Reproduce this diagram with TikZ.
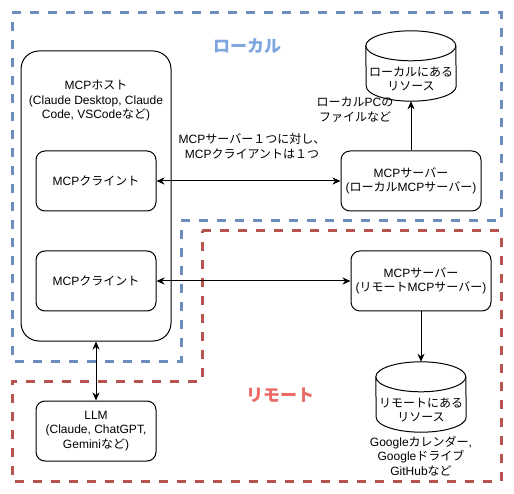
\documentclass[tikz,border=0pt]{standalone}
\usepackage{fontspec}
\setmainfont{Liberation Sans}
\newfontfamily\jp{Noto Sans CJK JP}
\newcommand\J[1]{{\jp #1}}
\usetikzlibrary{arrows.meta}
\definecolor{zoneblue}{HTML}{6C8EBF}
\definecolor{zonered}{HTML}{B85450}
\definecolor{lblblue}{HTML}{7EA6E0}
\definecolor{lblred}{HTML}{EA6B66}
\begin{document}
\begin{tikzpicture}[x=1pt,y=-1pt,
  font=\fontsize{12}{14.5}\selectfont,
  box/.style={draw, line width=1pt, rounded corners=9pt, inner sep=0pt, align=center, fill=white},
  zone/.style={line width=3pt, dash pattern=on 9pt off 9pt},
  tip/.tip={Stealth[length=8pt,width=7pt,inset=2.5pt]},
  link/.style={line width=1pt, -tip},
  both/.style={line width=1pt, tip-tip},
  cylbox/.style={minimum width=90pt, minimum height=70pt, inner sep=0pt},
  txt/.style={align=center, inner sep=0pt},
  zonelabel/.style={inner sep=0pt, font=\fontsize{17}{20}\selectfont\jp\bfseries}]
\useasboundingbox (0,0) rectangle (514,494);
\fill[white] (0,0) rectangle (514,494);

% zones
\draw[zone, zoneblue] (12,13) -- (501,13) -- (501,221) -- (181,221) -- (181,361) -- (12,361) -- cycle;
\draw[zone, zonered] (202,231) -- (501,231) -- (501,481) -- (12,481) -- (12,381) -- (202,381) -- cycle;
\node[zonelabel, text=lblblue] (loclabel) at (247,46) {ローカル};
\node[zonelabel, text=lblred] (remlabel) at (280,395) {リモート};

% host
\node[box, rounded corners=18pt, minimum width=150pt, minimum height=290pt] (host) at (96,196) {};
\node[txt] (hosttxt) at (96,101) {MCP\J{ホスト}\\(Claude Desktop, Claude\\Code, VSCode\J{など})};

% clients
\node[box, minimum width=120pt, minimum height=60pt] (cl1) at (96,181) {MCP\J{クライント}};
\node[box, minimum width=120pt, minimum height=60pt] (cl2) at (96,281) {MCP\J{クライント}};
\node[box, minimum width=120pt, minimum height=60pt] (llm) at (96,431) {LLM\\(Claude, ChatGPT,\\Gemini\J{など})};

% servers
\node[box, minimum width=140pt, minimum height=60pt] (lsrv) at (411,181) {MCP\J{サーバー}\\(\J{ローカル}MCP\J{サーバー})};
\node[box, minimum width=140pt, minimum height=60pt] (rsrv) at (421,281) {MCP\J{サーバー}\\(\J{リモート}MCP\J{サーバー})};

% cylinders
\node[cylbox] (lres) at (411,66) {};
\draw[line width=1pt, fill=white] ([yshift=-15pt]lres.north west) arc[start angle=180, end angle=0, x radius=45pt, y radius=15pt]
  -- ([yshift=15pt]lres.south east) arc[start angle=0, end angle=-180, x radius=45pt, y radius=15pt] -- cycle;
\draw[line width=1pt] ([yshift=-15pt]lres.north west) arc[start angle=180, end angle=360, x radius=45pt, y radius=15pt];
\node[txt] (lrestxt) at (411,79) {\J{ローカルにある}\\\J{リソース}};

\node[cylbox] (rres) at (421,397) {};
\draw[line width=1pt, fill=white] ([yshift=-15pt]rres.north west) arc[start angle=180, end angle=0, x radius=45pt, y radius=15pt]
  -- ([yshift=15pt]rres.south east) arc[start angle=0, end angle=-180, x radius=45pt, y radius=15pt] -- cycle;
\draw[line width=1pt] ([yshift=-15pt]rres.north west) arc[start angle=180, end angle=360, x radius=45pt, y radius=15pt];
\node[txt] (rrestxt) at (421,410) {\J{リモートにある}\\\J{リソース}};

% connectors
\draw[both] (cl1.east) -- (lsrv.west);
\draw[both] (cl2.east) -- (rsrv.west);
\draw[both] (host.south) -- (llm.north);
\draw[link] (lsrv.north) -- (lres.south);
\draw[link] (rsrv.south) -- (rres.north);

% labels
\node[txt] (edgelbl) at (252,146) {MCP\J{サーバー１つに対し、}\\MCP\J{クライアントは１つ}};
\node[txt] (locnote) at (355,110) {\J{ローカル}PC\J{の}\\\J{ファイルなど}};
\node[txt] (remnote) at (421,456) {Google\J{カレンダー},\\Google\J{ドライブ}\\GitHub\J{など}};
\end{tikzpicture}
\end{document}
